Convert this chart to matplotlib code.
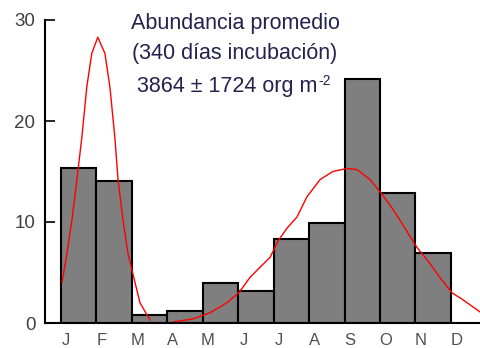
import numpy as np
import matplotlib.pyplot as plt

plt.rcParams['font.family'] = ['Liberation Sans', 'DejaVu Sans']

# monthly abundance (histogram bars, Jan..Nov)
months = ["J", "F", "M", "A", "M", "J", "J", "A", "S", "O", "N", "D"]
abundance = [15.3, 14.1, 0.8, 1.2, 4.0, 3.2, 8.3, 9.9, 24.2, 12.9, 6.9]

# fitted curve, first (summer) cohort
fit1_x = [0.03, 0.17, 0.31, 0.45, 0.59, 0.73, 0.87, 1.04, 1.24, 1.38, 1.52,
          1.61, 1.75, 1.89, 2.09, 2.23, 2.51]
fit1_y = [4.0, 6.9, 10.2, 14.2, 18.4, 23.4, 26.7, 28.3, 26.7, 23.4, 18.4,
          14.2, 10.2, 6.9, 4.0, 2.0, 0.3]

# fitted curve, second (autumn) cohort
fit2_x = [3.16, 3.72, 4.20, 4.68, 5.02, 5.33, 5.61, 5.90, 6.12, 6.38, 6.66,
          6.94, 7.31, 7.67, 8.07, 8.35, 8.72, 9.00, 9.28, 9.56, 9.79, 10.04,
          10.41, 10.69, 11.03, 11.34, 11.82]
fit2_y = [0.1, 0.4, 1.0, 2.0, 3.0, 4.5, 5.5, 6.5, 8.1, 9.4, 10.5,
          12.5, 14.2, 15.0, 15.3, 15.2, 14.2, 13.0, 11.7, 10.2, 8.9, 7.5,
          5.9, 4.5, 3.0, 2.3, 1.1]

fig = plt.figure(figsize=(4.81, 3.48), dpi=100)
ax = fig.add_axes([45 / 481, 25 / 348, 436 / 481, 303 / 348])

ax.bar(np.arange(len(abundance)), abundance, width=1.0, align="edge",
       color="#7f7f7f", edgecolor="black", linewidth=1.5, zorder=2)

ax.plot(fit1_x, fit1_y, color="red", lw=1.0, zorder=3)
ax.plot([fit1_x[0], fit1_x[-1]], [0, 0], color="red", lw=1.2, zorder=3)
ax.plot(fit2_x, fit2_y, color="red", lw=1.0, zorder=3)

ax.set_xlim(-0.45, 11.85)
ax.set_ylim(0, 30)
ax.set_yticks([0, 10, 20, 30])
ax.set_xticks(np.arange(len(months)) + 0.15)
ax.set_xticklabels(months)

for s in ("top", "right"):
    ax.spines[s].set_visible(False)
for s in ("left", "bottom"):
    ax.spines[s].set_linewidth(1.5)
    ax.spines[s].set_zorder(4)

ax.tick_params(axis="y", direction="in", length=7, width=1.2, pad=7,
               labelsize=13.5, labelcolor="#404040")
ax.tick_params(axis="x", length=0, pad=7, labelsize=12, labelcolor="#505050")

# header text
txt_color = "#22224f"
trans = ax.get_yaxis_transform()
ax.text(0.436, 29.1, "Abundancia promedio", ha="center", va="baseline",
        fontsize=15.5, color=txt_color, transform=trans)
ax.text(0.436, 26.1, "(340 días incubación)", ha="center", va="baseline",
        fontsize=15.5, color=txt_color, transform=trans)
line3 = ax.text(0.418, 22.9, "3864 \u00b1 1724 org m", ha="center",
                va="baseline", fontsize=15.5, color=txt_color, transform=trans)
ax.annotate("-2", xy=(1, 1), xycoords=line3, xytext=(0.5, 1.5),
            textcoords="offset points", ha="left", va="top",
            fontsize=10, color=txt_color)

fig.savefig("out.png", dpi=100)
